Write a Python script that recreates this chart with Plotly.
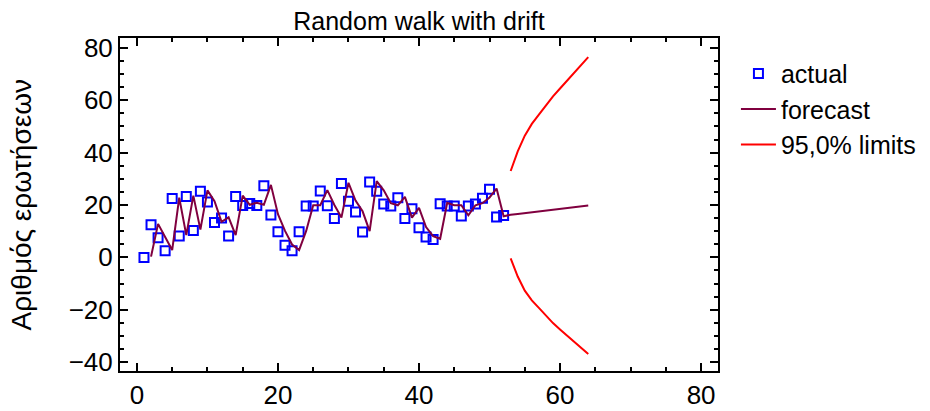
import plotly.graph_objects as go

# periods
t_actual = list(range(1, 53))
t_fit = list(range(2, 53))
t_fore = list(range(52, 65))
t_lim = list(range(53, 65))

# observed series
actual = [0.0, 12.5, 7.5, 2.5, 22.5, 8.2, 23.3, 10.3, 25.3, 21.2,
          13.3, 15.0, 8.2, 23.3, 19.8, 20.6, 19.8, 27.4, 16.2, 9.8,
          4.6, 2.5, 9.8, 19.6, 19.6, 25.4, 19.7, 14.9, 28.2, 21.4,
          17.3, 9.7, 28.8, 25.3, 20.4, 19.6, 22.8, 14.9, 18.6, 11.3,
          7.8, 6.8, 20.5, 19.6, 19.6, 15.8, 19.6, 20.4, 22.6, 26.0,
          15.4, 16.0]

# one-step-ahead fitted values (t = 2..52)
fitted = [0.3, 12.8, 7.8, 2.8, 22.8, 8.5, 23.6, 10.6, 25.6, 21.5,
          13.6, 15.3, 8.5, 23.6, 20.1, 20.9, 20.1, 27.7, 16.5, 10.1,
          4.9, 2.8, 10.1, 19.9, 19.9, 25.7, 20.0, 15.2, 28.5, 21.7,
          17.6, 10.0, 29.1, 25.6, 20.7, 19.9, 23.1, 15.2, 18.9, 11.6,
          8.1, 7.1, 20.8, 19.9, 19.9, 16.1, 19.9, 20.7, 22.9, 26.3,
          15.7]

# forecasts (t = 52..64, starting from last fitted point)
forecast = [15.7, 16.3, 16.6, 16.9, 17.3, 17.6, 17.9, 18.2, 18.5, 18.8,
            19.1, 19.5, 19.8]

# 95% limits (t = 53..64)
upper = [33.0, 40.5, 46.5, 51.0, 54.5, 58.0, 61.5, 64.5, 67.5, 70.5, 73.5, 76.5]
lower = [-0.4, -7.3, -12.7, -16.4, -19.3, -22.2, -25.1, -27.5, -29.9, -32.3, -34.5, -36.9]

font_main = "Liberation Sans, Arial, sans-serif"
maroon = "#80003F"

fig = go.Figure()

fig.add_trace(go.Scatter(
    x=t_actual, y=actual, mode="markers", name="actual", legendgroup="a",
    marker=dict(symbol="square-open", size=9, color="#0000FF", line=dict(width=2))
))
fig.add_trace(go.Scatter(
    x=t_fit + t_fore[1:], y=fitted + forecast[1:], mode="lines", name="forecast",
    legendgroup="f", line=dict(color=maroon, width=2)
))
fig.add_trace(go.Scatter(
    x=t_lim, y=upper, mode="lines", name="95,0% limits", legendgroup="l",
    line=dict(color="#FF0000", width=2)
))
fig.add_trace(go.Scatter(
    x=t_lim, y=lower, mode="lines", name="95,0% limits", legendgroup="l",
    showlegend=False, line=dict(color="#FF0000", width=2)
))

axis_common = dict(
    showline=True, linecolor="black", linewidth=2, mirror="allticks",
    ticks="inside", ticklen=8, tickwidth=2, tickcolor="black",
    showgrid=False, zeroline=False, automargin=False,
    tickfont=dict(family=font_main, size=26, color="black"),
)

fig.update_xaxes(
    range=[-2.4, 82.4], dtick=20, tick0=0,
    minor=dict(dtick=5, ticks="inside", ticklen=4, tickwidth=1.5, tickcolor="black"),
    **axis_common
)
fig.update_yaxes(
    range=[-43.4, 83.8], dtick=20, tick0=0,
    minor=dict(dtick=5, ticks="inside", ticklen=4, tickwidth=1.5, tickcolor="black"),
    **axis_common
)

# y axis title as an annotation so it can sit at the far left
fig.add_annotation(
    text="Αριθμός ερωτήσεων", textangle=-90, showarrow=False,
    xref="paper", yref="paper", x=(13 - 112) / 598, y=0.5,
    xanchor="center", yanchor="middle",
    font=dict(family=font_main, size=28, color="black"),
)

# page has 8px body margin, so the plot box is shifted accordingly
fig.update_layout(
    width=930, height=411,
    margin=dict(l=112, r=220, t=30, b=48),
    paper_bgcolor="white", plot_bgcolor="white",
    title=dict(text="Random walk with drift", x=411 / 930, xanchor="center", y=1 - 13 / 411,
               yanchor="middle",
               font=dict(family=font_main, size=25, color="black")),
    legend=dict(x=1.03, y=0.962, xanchor="left", yanchor="top",
                font=dict(family=font_main, size=25, color="black"),
                tracegroupgap=0, itemwidth=35, bgcolor="rgba(0,0,0,0)"),
)

fig.write_html("out.html")
